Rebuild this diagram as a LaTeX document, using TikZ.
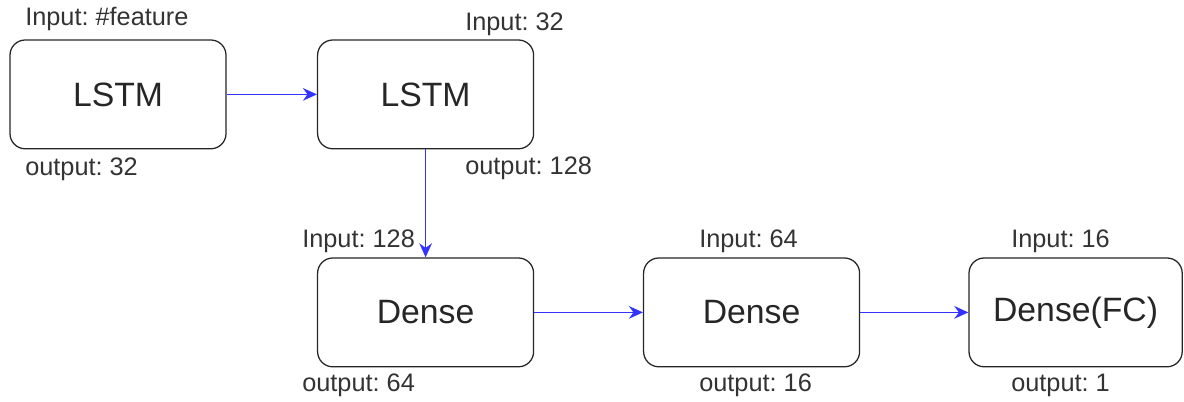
\documentclass[tikz,border=0pt]{standalone}
\usepackage{fontspec}
\setmainfont{Liberation Sans}
\usetikzlibrary{arrows.meta}
\frenchspacing

\definecolor{flowblue}{RGB}{51,51,255}

\tikzset{
    layerbox/.style={draw=black!85, line width=0.9pt, rounded corners=0.38cm, fill=white,
        minimum width=5.4cm, minimum height=2.72cm, inner sep=0pt,
        text=black!85, font=\fontsize{24}{28}\selectfont},
    flow/.style={draw=flowblue, line width=1.2pt, -{Stealth[length=10pt,width=9pt]}},
    dimlabel/.style={anchor=base west, inner sep=0pt, text=black!80,
        font=\fontsize{18}{21}\selectfont}
}

\begin{document}
\begin{tikzpicture}

        \useasboundingbox (0,0) rectangle (29.6,10.05);

        \node[layerbox] (lstmA) at (2.95,7.69) {LSTM};
        \node[layerbox] (lstmB) at (10.64,7.69) {LSTM};

        \node[layerbox] (denseA) at (10.64,2.24) {Dense};
        \node[layerbox] (denseB) at (18.79,2.24) {Dense};
        \node[layerbox, minimum width=5.33cm] (denseC) at (26.89,2.24) {Dense(FC)};

        \node[dimlabel] (inA) at (0.625,9.4) {Input: \#feature};
        \node[dimlabel] (outA) at (0.625,5.65) {output: 32};
        \node[dimlabel] (inB) at (11.625,9.275) {Input: 32};
        \node[dimlabel] (outB) at (11.625,5.675) {output: 128};

        \node[dimlabel] (inC) at (7.55,3.85) {Input: 128};
        \node[dimlabel] (outC) at (7.55,0.25) {output: 64};
        \node[dimlabel] (inD) at (17.475,3.85) {Input: 64};
        \node[dimlabel] (outD) at (17.475,0.25) {output: 16};
        \node[dimlabel] (inE) at (25.275,3.85) {Input: 16};
        \node[dimlabel] (outE) at (25.275,0.25) {output: 1};

        \draw[flow] (lstmA) -- (lstmB);
        \draw[flow] (lstmB) -- (denseA);
        \draw[flow] (denseA) -- (denseB);
        \draw[flow] (denseB) -- (denseC);

    \end{tikzpicture}
\end{document}
